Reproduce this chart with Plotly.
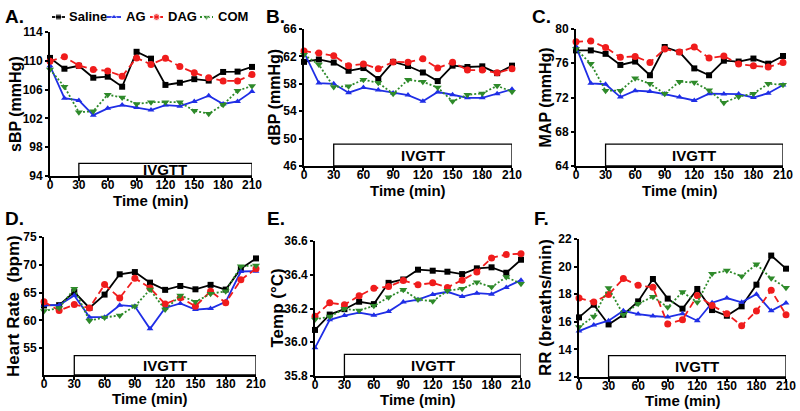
import plotly.graph_objects as go

# ---------------- data ----------------
time_min = [0, 15, 30, 45, 60, 75, 90, 105, 120, 135, 150, 165, 180, 195, 210]
x_tick_vals = [0, 30, 60, 90, 120, 150, 180, 210]
series_names = ["Saline", "AG", "DAG", "COM"]

# A. sBP (mmHg)
sbp_saline = [110.4, 108.9, 109.3, 107.65, 107.8, 106.4, 111.25, 110.3, 106.65, 106.95, 107.45, 107.25, 108.45, 108.5, 109.15]
sbp_ag = [109.3, 104.8, 104.5, 102.45, 103.4, 103.85, 103.5, 103.15, 103.85, 103.7, 104.35, 105.15, 104.0, 104.35, 105.75]
sbp_dag = [109.95, 110.55, 109.35, 108.8, 108.6, 107.85, 110.4, 109.5, 110.35, 109.2, 108.35, 107.65, 107.2, 107.2, 108.1]
sbp_com = [108.8, 106.4, 102.85, 103.0, 105.3, 104.9, 104.0, 104.25, 104.25, 104.25, 103.05, 102.65, 103.9, 105.85, 106.5]

# B. dBP (mmHg)
dbp_saline = [61.2, 61.55, 61.1, 59.9, 60.3, 58.7, 61.2, 60.6, 59.65, 58.4, 60.65, 60.45, 60.55, 59.55, 60.65]
dbp_ag = [62.6, 58.1, 58.0, 56.7, 57.45, 57.1, 56.65, 56.35, 55.45, 56.8, 56.4, 55.95, 55.95, 56.55, 57.2]
dbp_dag = [62.8, 62.5, 62.1, 60.65, 60.9, 60.2, 61.2, 61.15, 61.65, 60.3, 61.15, 60.0, 60.0, 59.6, 60.2]
dbp_com = [62.25, 60.8, 57.55, 57.65, 58.6, 58.15, 56.55, 58.6, 58.3, 57.45, 55.45, 56.4, 56.6, 57.7, 56.85]

# C. MAP (mmHg)
map_saline = [77.5, 77.5, 77.1, 75.8, 76.2, 74.6, 77.9, 77.3, 75.4, 74.6, 76.3, 76.2, 76.55, 75.95, 76.85]
map_ag = [77.95, 73.65, 73.55, 72.05, 72.8, 72.7, 72.4, 72.05, 71.65, 72.45, 72.4, 72.4, 72.0, 72.5, 73.45]
map_dag = [78.5, 78.6, 77.85, 76.7, 76.8, 76.1, 77.65, 77.3, 77.9, 76.6, 76.85, 75.9, 75.7, 75.55, 76.1]
map_com = [77.65, 75.95, 72.8, 72.8, 74.25, 73.6, 72.45, 73.85, 73.75, 72.85, 71.4, 72.1, 72.45, 73.6, 73.5]

# D. Heart rate (bpm)
hr_saline = [62.7, 62.75, 65.1, 62.25, 64.65, 68.3, 68.7, 66.8, 65.5, 66.2, 65.6, 66.4, 65.55, 69.3, 71.15]
hr_ag = [62.75, 62.75, 64.5, 60.6, 60.6, 62.75, 62.55, 58.5, 62.25, 63.05, 61.95, 62.15, 63.35, 68.8, 68.85]
hr_dag = [63.35, 61.8, 62.85, 62.25, 66.45, 64.05, 67.6, 65.85, 62.95, 64.1, 62.55, 65.25, 63.2, 67.3, 69.3]
hr_com = [61.7, 62.25, 65.7, 59.95, 60.55, 60.9, 62.55, 65.55, 61.95, 64.5, 63.35, 64.8, 65.25, 69.75, 69.9]

# E. Temp (degC)
temp_saline = [36.073, 36.164, 36.196, 36.24, 36.226, 36.352, 36.372, 36.43, 36.424, 36.418, 36.404, 36.438, 36.444, 36.412, 36.489]
temp_ag = [35.967, 36.133, 36.158, 36.176, 36.16, 36.182, 36.238, 36.252, 36.283, 36.299, 36.271, 36.291, 36.285, 36.325, 36.368]
temp_dag = [36.154, 36.234, 36.222, 36.275, 36.32, 36.33, 36.366, 36.34, 36.352, 36.325, 36.368, 36.416, 36.5, 36.52, 36.525]
temp_com = [36.135, 36.152, 36.198, 36.188, 36.216, 36.267, 36.311, 36.253, 36.243, 36.305, 36.317, 36.356, 36.327, 36.386, 36.347]

# F. RR (breaths/min)
rr_saline = [16.32, 17.24, 15.81, 16.51, 17.48, 19.1, 17.68, 16.95, 18.38, 16.85, 16.44, 17.12, 18.69, 20.8, 19.85]
rr_ag = [15.33, 15.76, 16.08, 16.8, 16.56, 16.42, 16.34, 16.59, 16.08, 17.38, 17.72, 17.41, 18.0, 16.8, 17.36]
rr_dag = [17.72, 17.43, 17.97, 19.13, 18.64, 18.5, 15.84, 16.15, 17.9, 17.19, 16.59, 15.71, 16.78, 18.28, 16.51]
rr_com = [15.62, 16.39, 18.45, 16.51, 17.31, 17.82, 17.05, 18.16, 17.41, 19.49, 19.71, 19.3, 20.17, 19.15, 18.47]

# ---------------- styling ----------------
FONT = "Arial, 'Liberation Sans', sans-serif"
styles = {
    "Saline": dict(color="#000000", dash="solid", symbol="square", size=6),
    "AG": dict(color="#1f2ee6", dash="solid", symbol="triangle-up", size=6),
    "DAG": dict(color="#f01c1c", dash="7px,4px", symbol="circle", size=7),
    "COM": dict(color="#2e8a2a", dash="2px,2px", symbol="triangle-down", size=7),
}
# legend key placement (paper pixels): key line start/end, text x
legend_layout = {
    "Saline": (52, 65, 67),
    "AG": (107, 121, 124),
    "DAG": (150, 163, 166),
    "COM": (200, 213, 216),
}
legend_row_y = 17

panels = [
    dict(letter="A.", data=[sbp_saline, sbp_ag, sbp_dag, sbp_com], ytitle="sBP (mmHg)",
         yrange=[94, 114], ytick=[94, 98, 102, 106, 110, 114], fmt=None,
         xd=[50, 252], yd=[32, 176], boxh=0.088, lab=(3, 17), xt_y=201, yt_x=15, ysz=16),
    dict(letter="B.", data=[dbp_saline, dbp_ag, dbp_dag, dbp_com], ytitle="dBP (mmHg)",
         yrange=[46, 66], ytick=[46, 50, 54, 58, 62, 66], fmt=None,
         xd=[304, 512], yd=[29, 166], boxh=0.16, lab=(264, 17), xt_y=190, yt_x=274, ysz=16),
    dict(letter="C.", data=[map_saline, map_ag, map_dag, map_com], ytitle="MAP (mmHg)",
         yrange=[64, 80], ytick=[64, 68, 72, 76, 80], fmt=None,
         xd=[576, 783], yd=[29, 166], boxh=0.16, lab=(530, 17), xt_y=190, yt_x=545, ysz=16),
    dict(letter="D.", data=[hr_saline, hr_ag, hr_dag, hr_com], ytitle="Heart Rate  (bpm)",
         yrange=[50.2, 75], ytick=[55, 60, 65, 70, 75], fmt=None,
         xd=[44, 256], yd=[237, 375], boxh=0.14, lab=(3, 218), xt_y=398, yt_x=13, ysz=17),
    dict(letter="E.", data=[temp_saline, temp_ag, temp_dag, temp_com], ytitle="Temp (°C)",
         yrange=[35.8, 36.6], ytick=[35.8, 36.0, 36.2, 36.4, 36.6], fmt=".1f",
         xd=[315, 521], yd=[241, 376], boxh=0.16, lab=(265, 218), xt_y=399, yt_x=277, ysz=17),
    dict(letter="F.", data=[rr_saline, rr_ag, rr_dag, rr_com], ytitle="RR (breaths/min)",
         yrange=[12, 22], ytick=[12, 14, 16, 18, 20, 22], fmt=None,
         xd=[579, 786], yd=[239, 377], boxh=0.155, lab=(532, 218), xt_y=400, yt_x=545, ysz=17),
]

W, H = 800, 411
fig = go.Figure()
layout = dict(
    width=W, height=H, margin=dict(l=0, r=0, t=0, b=0, autoexpand=False),
    paper_bgcolor="white", plot_bgcolor="rgba(0,0,0,0)",
    font=dict(family=FONT, color="black"),
    showlegend=False,
)
shapes = []
annotations = []

for i, p in enumerate(panels, start=1):
    xa = "x" if i == 1 else f"x{i}"
    ya = "y" if i == 1 else f"y{i}"
    for name, vals in zip(series_names, p["data"]):
        st = styles[name]
        fig.add_trace(go.Scatter(
            x=time_min, y=vals, mode="lines+markers", name=name,
            line=dict(color=st["color"], width=1.8, dash=st["dash"]),
            marker=dict(symbol=st["symbol"], size=st["size"], color=st["color"]),
            xaxis=xa, yaxis=ya, cliponaxis=False,
        ))
    axis_common = dict(showline=True, linecolor="black", linewidth=1.8, ticks="outside",
                       ticklen=3, tickwidth=1.5, tickcolor="black", showgrid=False,
                       zeroline=False, mirror=False, fixedrange=True,
                       tickfont=dict(family=FONT, size=12, color="black", weight="bold"))
    layout["xaxis" if i == 1 else f"xaxis{i}"] = dict(
        axis_common, domain=[p["xd"][0] / W, p["xd"][1] / W], anchor=ya,
        range=[0, 210], tickvals=x_tick_vals, ticklabelstandoff=-6,
    )
    ykw = dict(axis_common, domain=[1 - p["yd"][1] / H, 1 - p["yd"][0] / H], anchor=xa,
               range=p["yrange"], tickvals=p["ytick"])
    if p["fmt"]:
        ykw["tickformat"] = p["fmt"]
    layout["yaxis" if i == 1 else f"yaxis{i}"] = ykw

    # axis titles
    annotations.append(dict(xref="paper", yref="paper", x=(p["xd"][0] + p["xd"][1]) / 2 / W,
                            y=1 - p["xt_y"] / H, xanchor="center", yanchor="middle",
                            text="Time (min)", showarrow=False,
                            font=dict(family=FONT, size=15, color="black", weight="bold")))
    annotations.append(dict(xref="paper", yref="paper", x=p["yt_x"] / W,
                            y=1 - (p["yd"][0] + p["yd"][1]) / 2 / H, xanchor="center",
                            yanchor="middle", textangle=-90, text=p["ytitle"], showarrow=False,
                            font=dict(family=FONT, size=p["ysz"], color="black", weight="bold")))

    shapes.append(dict(type="rect", xref=xa, yref=f"{ya} domain", x0=30, x1=210,
                       y0=0, y1=p["boxh"], line=dict(color="black", width=1.3),
                       fillcolor="white", layer="below"))
    annotations.append(dict(xref=xa, yref=f"{ya} domain", x=120, y=p["boxh"] / 2,
                            text="IVGTT", showarrow=False, yanchor="middle",
                            font=dict(family=FONT, size=15, color="black", weight="bold")))
    annotations.append(dict(xref="paper", yref="paper", x=p["lab"][0] / W, y=1 - p["lab"][1] / H,
                            xanchor="left", yanchor="middle", text=p["letter"], showarrow=False,
                            font=dict(family=FONT, size=19, color="black", weight="bold")))

# ---- legend row (key lines with a centre marker, plus bold labels) ----
leg_x0, leg_x1, leg_y0, leg_y1 = 40, 260, 8, 26
layout["xaxis7"] = dict(domain=[leg_x0 / W, leg_x1 / W], range=[leg_x0, leg_x1],
                        visible=False, fixedrange=True, anchor="y7")
layout["yaxis7"] = dict(domain=[1 - leg_y1 / H, 1 - leg_y0 / H], range=[leg_y1, leg_y0],
                        visible=False, fixedrange=True, anchor="x7")
for name in series_names:
    st = styles[name]
    x0, x1, tx = legend_layout[name]
    fig.add_trace(go.Scatter(
        x=[x0, (x0 + x1) / 2, x1], y=[legend_row_y] * 3, mode="lines+markers",
        line=dict(color=st["color"], width=1.8, dash=("3px,2px" if name == "DAG" else st["dash"])),
        marker=dict(symbol=st["symbol"], size=[0, st["size"], 0], color=st["color"]),
        xaxis="x7", yaxis="y7", hoverinfo="skip", cliponaxis=False,
    ))
    annotations.append(dict(xref="paper", yref="paper", x=tx / W, y=1 - legend_row_y / H,
                            xanchor="left", yanchor="middle", text=name, showarrow=False,
                            font=dict(family=FONT, size=13, color="black", weight="bold")))

layout["shapes"] = shapes
layout["annotations"] = annotations
fig.update_layout(**layout)
fig.write_html("out.html", config={"displayModeBar": False},
               post_script="document.body.style.margin='0px';document.body.style.overflow='hidden';")
